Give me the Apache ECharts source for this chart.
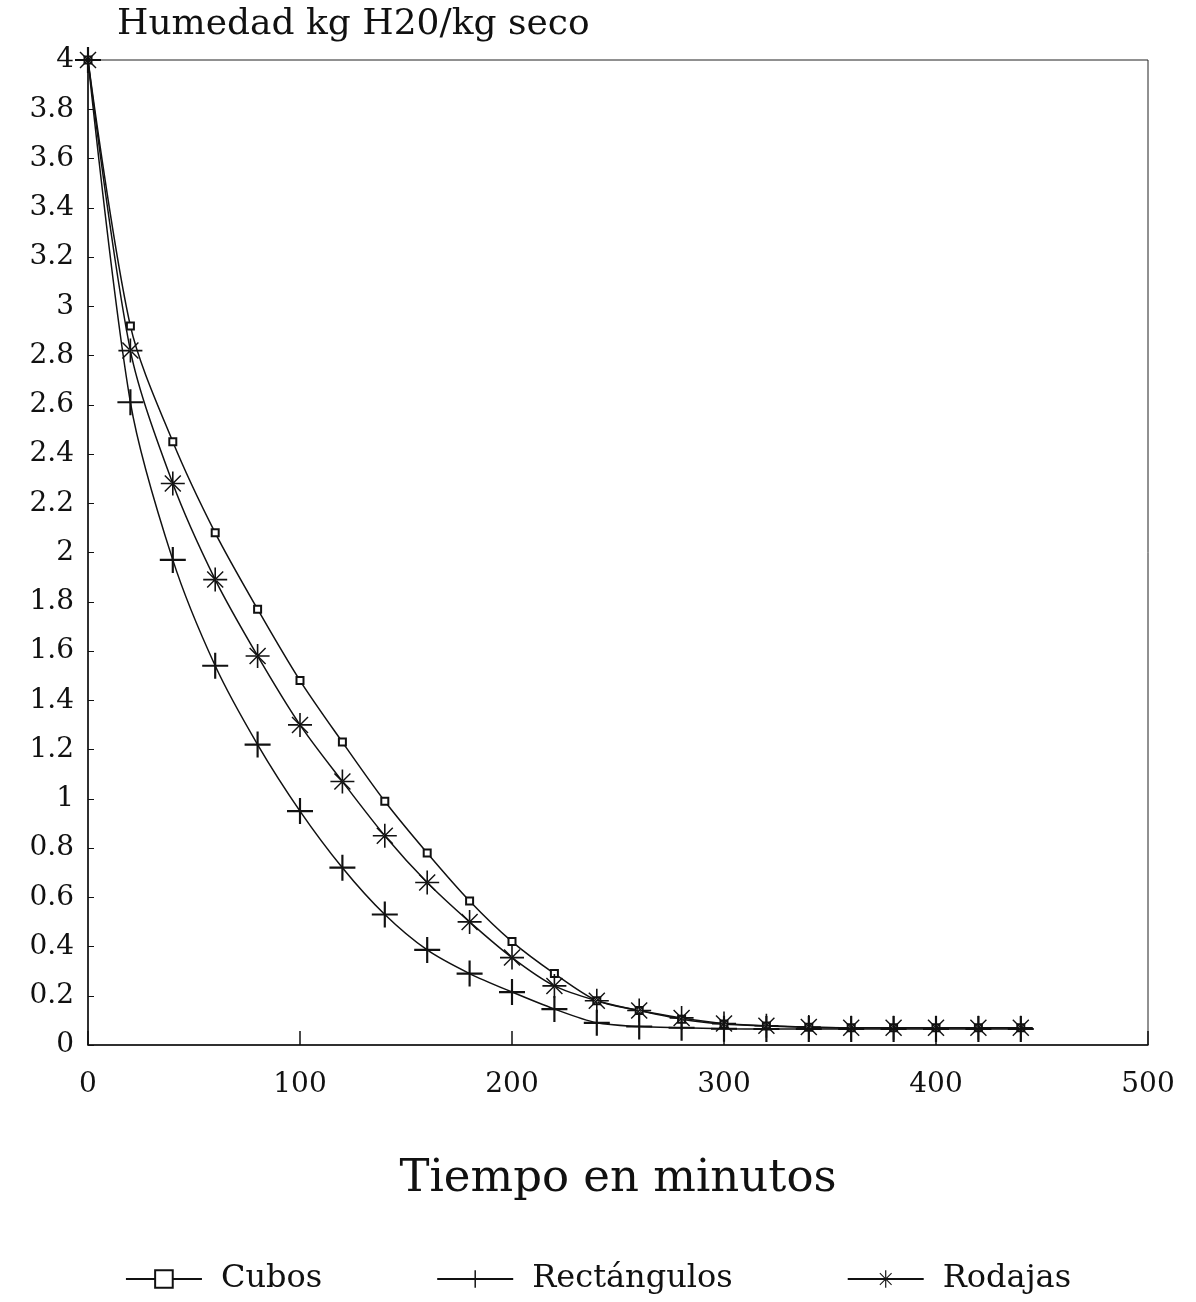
<!DOCTYPE html>
<html>
<head>
<meta charset="utf-8">
<script src="https://cdn.jsdelivr.net/npm/echarts@6/dist/echarts.min.js"></script>
<style>html,body{margin:0;padding:0;background:#fff}#c{width:1196px;height:1302px}</style>
</head>
<body>
<div id="c"></div>
<script>
const tiempo = [0,20,40,60,80,100,120,140,160,180,200,220,240,260,280,300,320,340,360,380,400,420,440];
const cubos = [4.0,2.92,2.45,2.08,1.77,1.48,1.23,0.99,0.78,0.585,0.42,0.29,0.18,0.14,0.105,0.085,0.077,0.072,0.07,0.07,0.07,0.07,0.07];
const rectangulos = [4.0,2.61,1.97,1.54,1.22,0.95,0.72,0.53,0.386,0.29,0.215,0.146,0.09,0.075,0.07,0.066,0.065,0.065,0.065,0.065,0.065,0.065,0.065];
const rodajas = [4.0,2.82,2.28,1.89,1.58,1.30,1.07,0.85,0.66,0.50,0.355,0.24,0.18,0.14,0.11,0.087,0.078,0.073,0.07,0.07,0.07,0.07,0.07];
const seriesNames = ['Cubos','Rectángulos','Rodajas'];

const FONT = 'DejaVu Serif';
const plusPath = 'path://M-1,-12L1,-12L1,12L-1,12Z M-12,-1L12,-1L12,1L-12,1Z';
const starPath = 'path://M-0.8,-12L0.8,-12L0.8,12L-0.8,12Z M-12,-0.8L12,-0.8L12,0.8L-12,0.8Z M-8.5,-7.5L7.5,8.5L8.5,7.5L-7.5,-8.5Z M8.5,-7.5L-7.5,8.5L-8.5,7.5L7.5,-8.5Z';

function pairs(arr){ return tiempo.map((t,i)=>[t,arr[i]]); }

const chart = echarts.init(document.getElementById('c'));
chart.setOption({
  backgroundColor:'#fff',
  animation:false,
  title:{text:'Humedad kg H20/kg seco',left:112,top:2,textStyle:{fontFamily:FONT,fontSize:36,fontWeight:'normal',color:'#111'}},
  grid:{left:88,right:48,top:60,bottom:257,show:true,borderColor:'#222',borderWidth:1,backgroundColor:'transparent'},
  legend:{
    data:seriesNames,left:'center',top:1258,itemGap:114,itemWidth:76,itemHeight:22,
    textStyle:{fontFamily:FONT,fontSize:32,color:'#111',padding:[0,0,0,14]}
  },
  xAxis:{
    type:'value',min:0,max:500,interval:100,
    name:'Tiempo en minutos',nameLocation:'middle',nameGap:112,
    nameTextStyle:{fontFamily:FONT,fontSize:45,color:'#111'},
    axisLine:{lineStyle:{color:'#111',width:1.5}},
    axisTick:{inside:true,length:14,lineStyle:{color:'#111',width:1.5}},
    axisLabel:{fontFamily:FONT,fontSize:28,color:'#111',margin:26},
    splitLine:{show:false}
  },
  yAxis:{
    type:'value',min:0,max:4,interval:0.2,
    axisLine:{lineStyle:{color:'#111',width:1.5}},
    axisTick:{inside:true,length:6,lineStyle:{color:'#111'}},
    axisLabel:{fontFamily:FONT,fontSize:28,color:'#111',margin:14,formatter:v=>String(parseFloat(v.toFixed(1)))},
    splitLine:{show:false}
  },
  series:[
    {name:'Cubos',type:'line',smooth:0.3,data:pairs(cubos),symbol:'emptyRect',symbolSize:7,
     itemStyle:{color:'#111',borderWidth:1.5},lineStyle:{color:'#111',width:1.5}},
    {name:'Rectángulos',type:'line',smooth:0.3,data:pairs(rectangulos),symbol:plusPath,symbolSize:26,
     itemStyle:{color:'#111'},lineStyle:{color:'#111',width:1.5}},
    {name:'Rodajas',type:'line',smooth:0.3,data:pairs(rodajas),symbol:starPath,symbolSize:24,
     itemStyle:{color:'#111'},lineStyle:{color:'#111',width:1.5}}
  ]
});
</script>
</body>
</html>
